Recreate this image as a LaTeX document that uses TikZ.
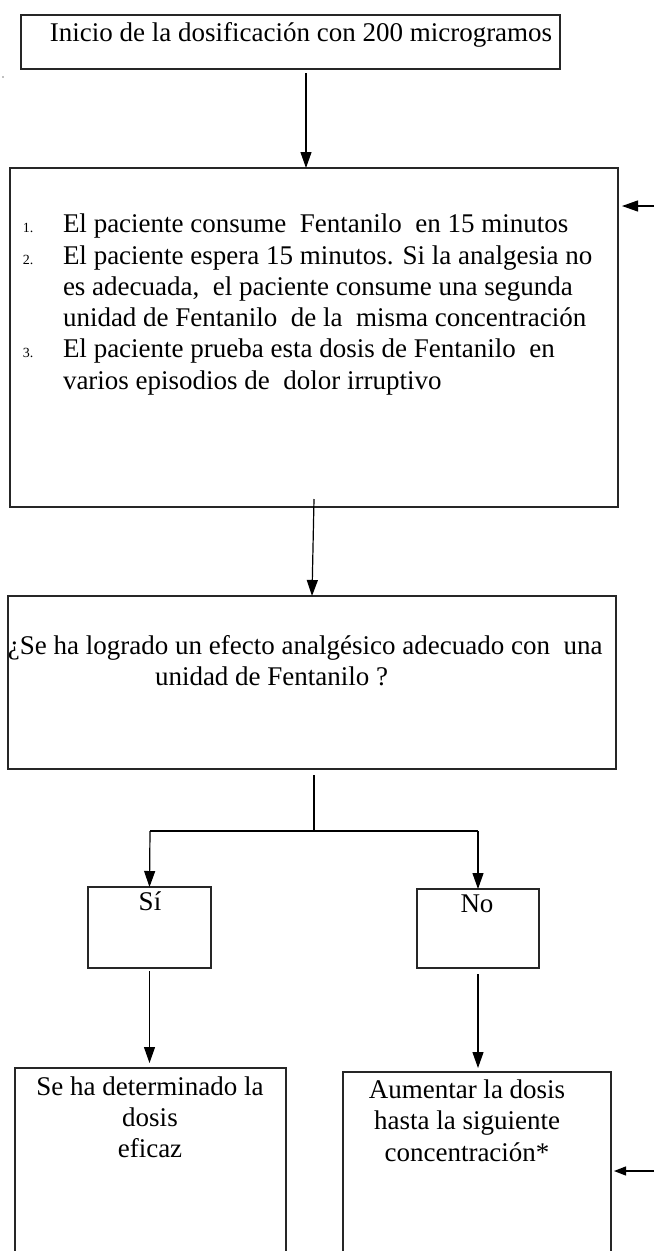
\documentclass[tikz,border=0pt]{standalone}
\usepackage{fontspec}
\setmainfont{Liberation Serif}
\usetikzlibrary{arrows.meta}
\begin{document}
\begin{tikzpicture}[x=1pt,y=-1pt,
  boxx/.style={draw=black!85, line width=1.3pt, inner sep=0pt, outer sep=0pt},
  txt/.style={inner sep=0pt, outer sep=0pt, font=\fontsize{27}{31.5}\selectfont},
  num/.style={inner sep=0pt, outer sep=0pt, font=\fontsize{14}{16}\selectfont},
  arr/.style={line width=1.2pt, -{Triangle[length=16pt,width=11pt]}},
  arrs/.style={line width=1.2pt, -{Triangle[length=12pt,width=9pt]}},
  ln/.style={line width=1.2pt}]
\useasboundingbox (0,0) rectangle (654,1251);
\clip (0,0) rectangle (654,1251);
\fill[white] (0,0) rectangle (654,1251);
\fill[black!50] (3,77) circle (0.8);

% boxes
\node[boxx, minimum width=539pt, minimum height=54pt] (b1) at (290.5,42) {};
\node[boxx, minimum width=608pt, minimum height=339pt] (b2) at (314,337.5) {};
\node[boxx, minimum width=608pt, minimum height=173pt] (b3) at (312,682.5) {};
\node[boxx, minimum width=123pt, minimum height=81pt] (si) at (149.5,927.5) {};
\node[boxx, minimum width=122pt, minimum height=79pt] (no) at (478,928.5) {};
\node[boxx, minimum width=271pt, minimum height=212pt] (bl) at (150.5,1174) {};
\node[boxx, minimum width=268pt, minimum height=208pt] (br) at (477,1176) {};

% texts
\node[txt, anchor=base] (t1) at (301,41) {Inicio de la dosificación con 200 microgramos};

\node[num, anchor=base west] (n1) at (23,232) {1.};
\node[txt, anchor=base west] (l1) at (63,232) {El paciente consume\ \ Fentanilo\ \ en 15 minutos};
\node[num, anchor=base west] (n2) at (23,264) {2.};
\node[txt, anchor=base west] (l2) at (63,264) {El paciente espera 15 minutos. Si la analgesia no};
\node[txt, anchor=base west] (l3) at (63,295) {es adecuada,\ \ el paciente consume una segunda};
\node[txt, anchor=base west] (l4) at (63,326) {unidad de Fentanilo\ \ de la\ \ misma concentración};
\node[num, anchor=base west] (n3) at (23,357) {3.};
\node[txt, anchor=base west] (l5) at (63,357) {El paciente prueba esta dosis de Fentanilo\ \ en};
\node[txt, anchor=base west] (l6) at (63,389) {varios episodios de\ \ dolor irruptivo};

\node[txt, anchor=base west] (q1) at (8,654) {¿Se ha logrado un efecto analgésico adecuado con\ \ una};
\node[txt, anchor=base west] (q2) at (155,685) {unidad de Fentanilo ?};

\node[txt, anchor=base] (tsi) at (150,910) {Sí};
\node[txt, anchor=base] (tno) at (477,912) {No};

\node[txt, anchor=base] (e1) at (150,1095) {Se ha determinado la};
\node[txt, anchor=base] (e2) at (150,1126) {dosis};
\node[txt, anchor=base] (e3) at (150,1157) {eficaz};

\node[txt, anchor=base] (a1) at (467,1098) {Aumentar la dosis};
\node[txt, anchor=base] (a2) at (467,1129) {hasta la siguiente};
\node[txt, anchor=base] (a3) at (467,1161) {concentración*};

% connectors
\coordinate (c1) at (306,73);
\draw[arr] (c1) -- (c1 |- b2.north);
\draw[arr] ([yshift=8pt]b2.south) -- (b3.north);

\coordinate (s0) at (314,775);
\coordinate (fk) at (314,831);
\coordinate (fl) at (150,831);
\coordinate (fr) at (478,831);
\draw[ln] (s0) -- (fk);
\draw[ln] (fl) -- (fr);
\draw[arr] (fl) -- (si.north);
\draw[arr] (fr) -- (no.north);

\draw[arr, shorten <=3pt, shorten >=5pt] (si.south) -- (si.south |- bl.north);
\draw[arr, shorten <=6pt, shorten >=4pt] (no.south) -- (no.south |- br.north);

\coordinate (r1) at (654,206);
\coordinate (r1t) at (622,206);
\draw[arr] (r1) -- (r1t);
\coordinate (r2) at (654,1171);
\coordinate (r2t) at (614,1171);
\draw[arrs] (r2) -- (r2t);
\end{tikzpicture}
\end{document}
